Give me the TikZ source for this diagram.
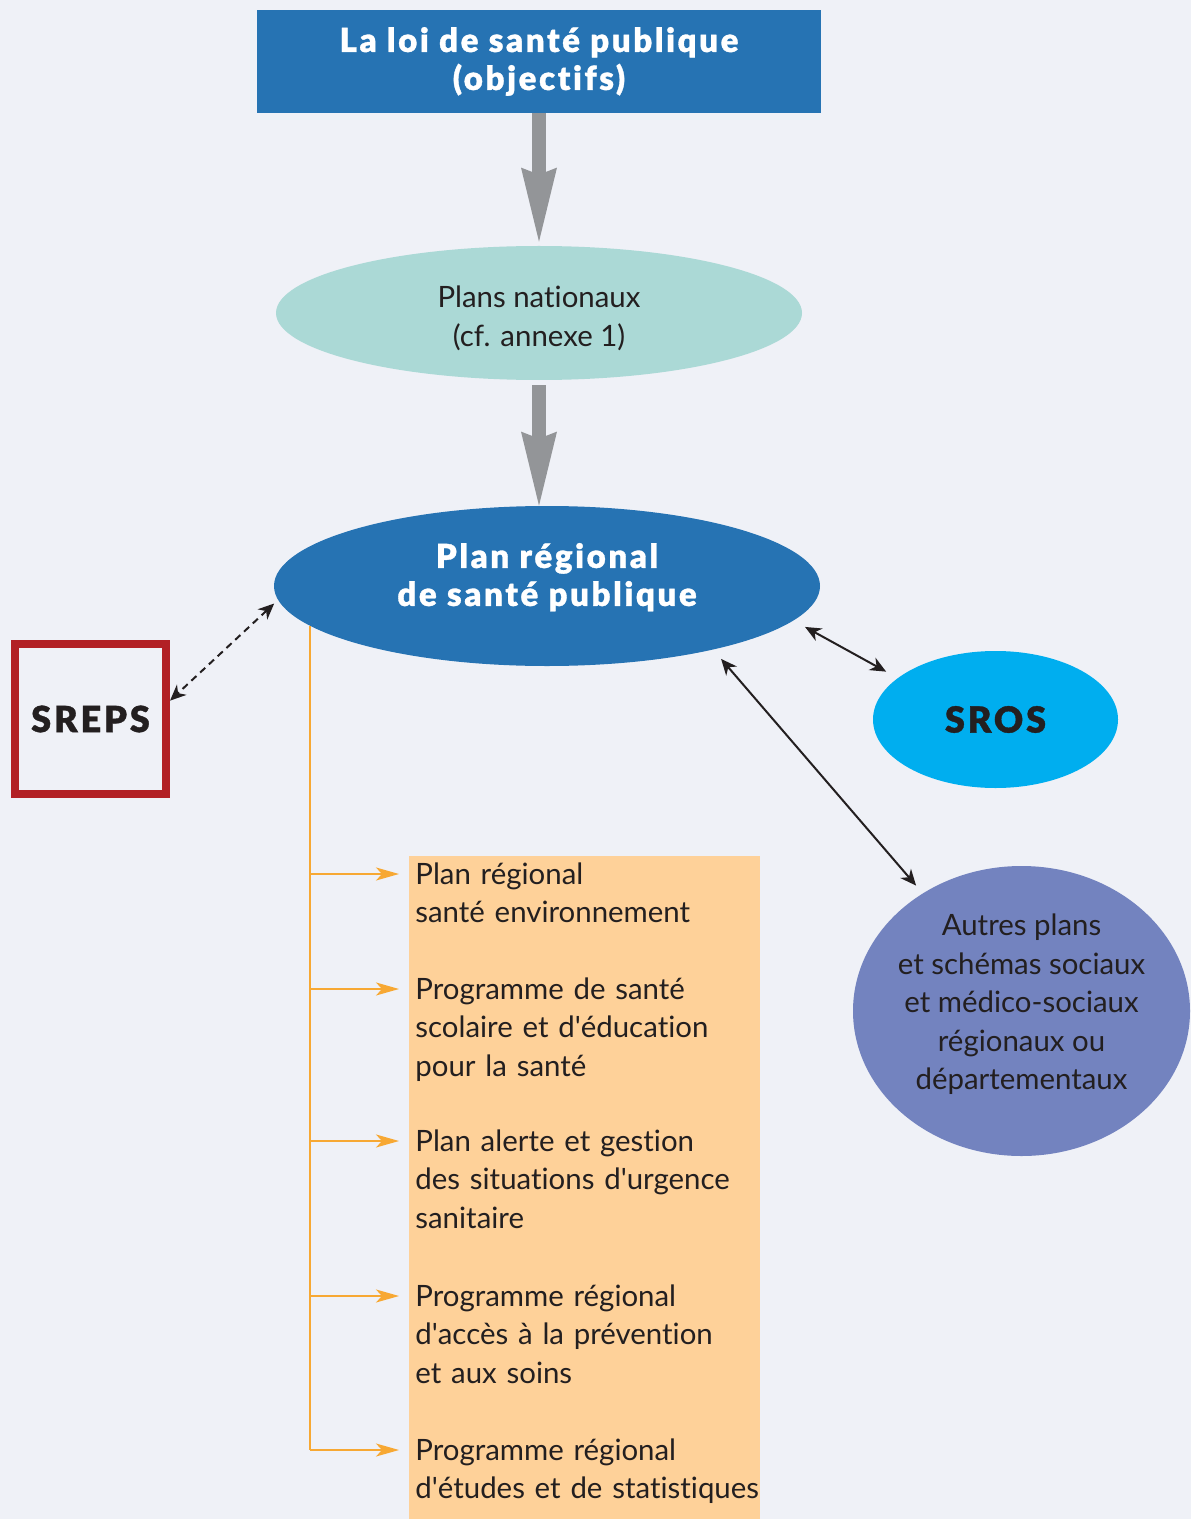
\documentclass[tikz,border=0pt]{standalone}
\usepackage{fontspec}
\setmainfont{Lato}[Ligatures={TeX,NoCommon}]
\IfFontExistsTF{Lato Black}
  {\newfontfamily\heavyfont{Lato Black}[Ligatures=NoCommon,FakeBold=1,LetterSpace=8]}
  {\newfontfamily\heavyfont{Lato}[Ligatures=NoCommon,FakeBold=2,LetterSpace=8]}
\usetikzlibrary{arrows.meta,shapes.geometric}

\definecolor{fondbg}{HTML}{EFF1F7}
\definecolor{bleuloi}{HTML}{2673B3}
\definecolor{grisfl}{HTML}{939598}
\definecolor{vertnat}{HTML}{ABD9D6}
\definecolor{bleusros}{HTML}{00AEEF}
\definecolor{violetautres}{HTML}{7383BF}
\definecolor{orbox}{HTML}{FED199}
\definecolor{orline}{HTML}{F7A833}
\definecolor{rougesreps}{HTML}{B22025}
\definecolor{texte}{HTML}{231F20}

\tikzset{
  titre/.style={font=\heavyfont\fontsize{16.5}{19}\selectfont, text=white, align=center},
  courant/.style={font=\fontsize{14.7}{19.25}\selectfont, text=texte},
  sigle/.style={font=\heavyfont\fontsize{18}{20}\selectfont, text=texte},
  greyarrow/.style={grisfl, line width=7.3pt, -{Stealth[length=37pt,width=18pt,inset=3.5pt,line width=0pt]}},
  dblarrow/.style={texte, line width=1pt, {Stealth[length=8pt,width=7pt,inset=2.5pt]}-{Stealth[length=8pt,width=7pt,inset=2.5pt]}},
  orarrow/.style={orline, line width=1pt, -{Stealth[length=11.5pt,width=6.5pt,inset=3pt]}},
  progitem/.style={courant, text width=200pt, align=left, inner sep=0pt, anchor=base west}
}

\begin{document}
\begin{tikzpicture}[x=0.5pt, y=-0.5pt]
\useasboundingbox (0,0) rectangle (1191,1519);
\fill[fondbg] (0,0) rectangle (1191,1519);

% les plans
\node[titre, fill=bleuloi, minimum width=282pt, minimum height=51.5pt, inner sep=0pt] (loi) at (539,61.5) {La loi de santé publique\\(objectifs)};
\node[ellipse, fill=vertnat, minimum width=263pt, minimum height=67pt, inner sep=0pt,
      label={[courant, align=center, yshift=-2.75pt]center:Plans nationaux\\(cf. annexe 1)}] (nat) at (539,313) {};
\node[titre, ellipse, fill=bleuloi, minimum width=273pt, minimum height=80pt, inner sep=0pt, text depth=11.5pt] (prsp) at (547,586) {Plan régional\\de santé publique};

\node[sigle, draw=rougesreps, line width=4pt, minimum width=75.5pt, minimum height=75pt] (sreps) at (90.5,719) {SREPS};
\node[sigle, ellipse, fill=bleusros, minimum width=122.5pt, minimum height=68.5pt, inner sep=0pt] (sros) at (995.5,719.5) {SROS};
\node[ellipse, fill=violetautres, minimum width=168.5pt, minimum height=145pt, inner sep=0pt,
      label={[courant, align=center, yshift=3.3pt]center:Autres plans\\et schémas sociaux\\et médico-sociaux\\régionaux ou\\départementaux}] (autres) at (1021.5,1011) {};

% programmes
\node[fill=orbox, minimum width=175.5pt, minimum height=331.5pt, inner sep=0pt] (progs) at (584.5,1187.5) {};
\node[progitem] (envt) at (415,884) {Plan régional\\santé environnement};
\node[progitem] (scol) at (415,999) {Programme de santé\\scolaire et d\textquotesingle éducation\\pour la santé};
\node[progitem] (alerte) at (415,1151) {Plan alerte et gestion\\des situations d\textquotesingle urgence\\sanitaire};
\node[progitem] (acces) at (415,1306) {Programme régional\\d\textquotesingle accès à la prévention\\et aux soins};
\node[progitem] (etudes) at (415,1460) {Programme régional\\d\textquotesingle études et de statistiques};

\coordinate (trunk) at (310,626);
\foreach \nom/\yy in {envt/874, scol/989, alerte/1141, acces/1296, etudes/1450}
  \coordinate (\nom-in) at (399,\yy);

% fleches
\draw[greyarrow, shorten >=2pt] (loi) -- (nat);
\draw[greyarrow, shorten <=2.5pt] (nat.south) -- (nat.south |- prsp.north);

\draw[dblarrow, dash pattern=on 3.5pt off 2.5pt, shorten <=2.5pt] (prsp.183.1) -- (sreps.13.4);
\draw[dblarrow, shorten <=6.5pt, shorten >=6.5pt] (prsp.-8.3) -- (sros.157.9);
\draw[dblarrow, shorten <=6pt, shorten >=5pt] (prsp.-21) -- (autres.130);

\draw[orline, line width=1pt] (trunk) -- (trunk |- etudes-in);
\foreach \nom in {envt,scol,alerte,acces,etudes}
  \draw[orarrow] (trunk |- \nom-in) -- (\nom-in);

\end{tikzpicture}
\end{document}
